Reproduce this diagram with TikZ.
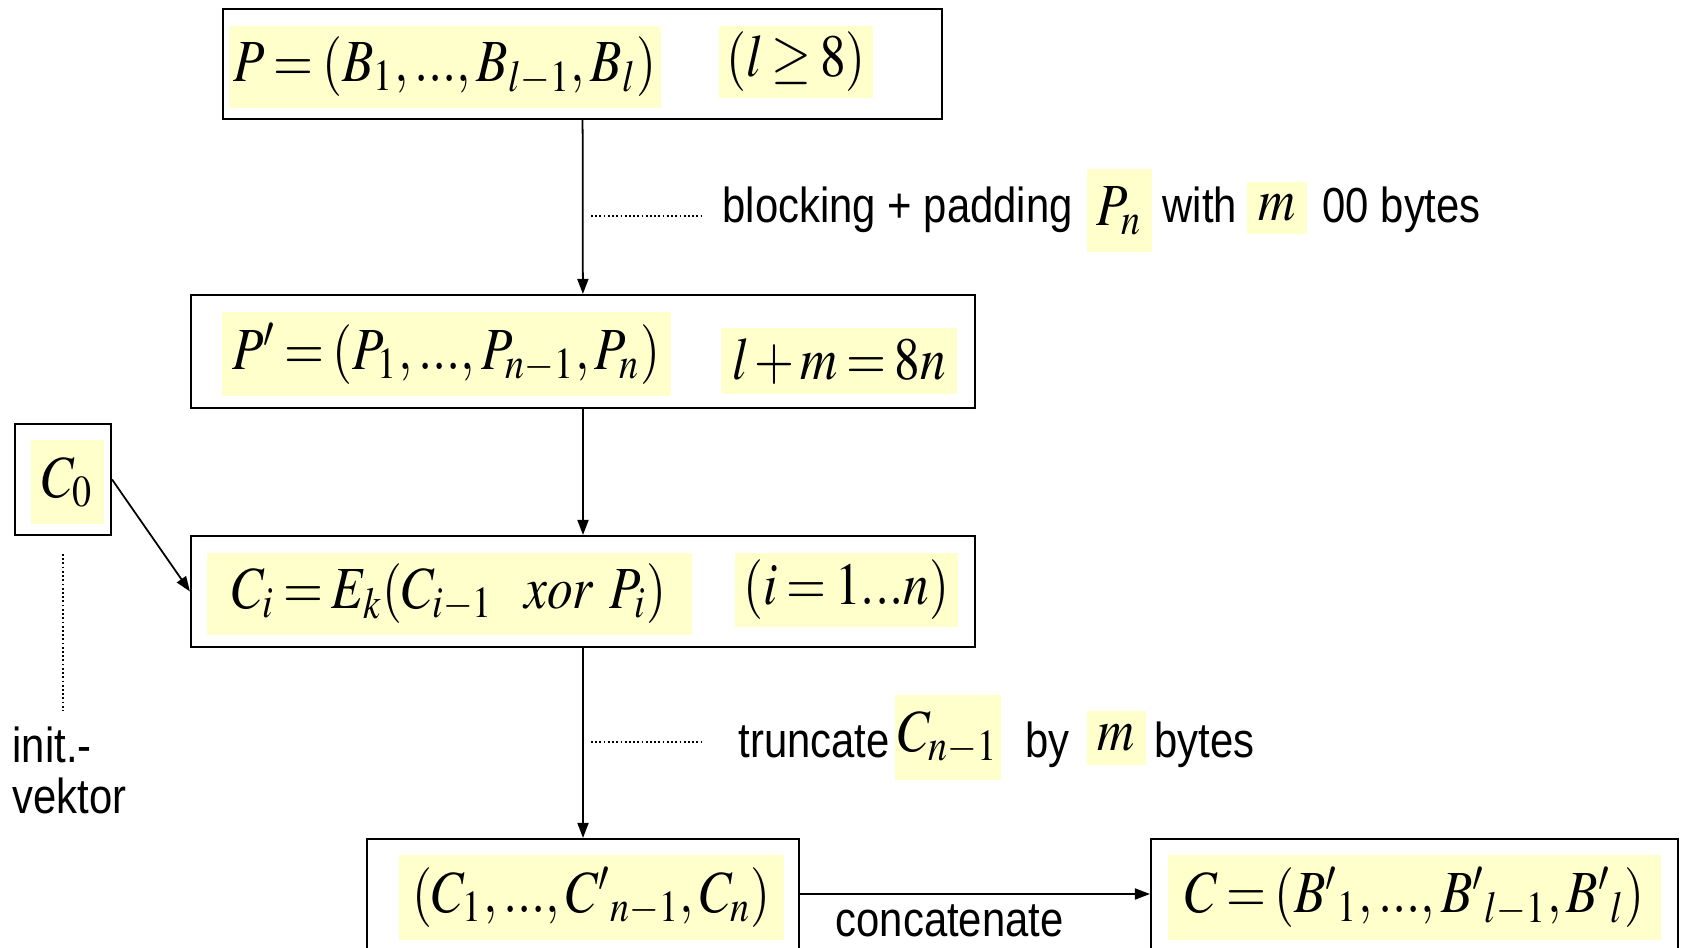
\documentclass[tikz,border=0pt]{standalone}
\usepackage{mathptmx}
\usepackage[no-math]{fontspec}
\newfontfamily\labelfont[FakeStretch=0.85]{Liberation Sans}
\usetikzlibrary{arrows.meta,positioning}
\definecolor{hlyellow}{RGB}{255,255,204}
\newcommand\fm[1]{\scalebox{0.86}[1]{$\thickmuskip=3mu\medmuskip=2mu #1$}}

\begin{document}
\begin{tikzpicture}[
    box/.style={draw, line width=0.6pt, inner sep=0pt},
    hl/.style={fill=hlyellow, inner sep=0pt, font=\fontsize{17}{20}\selectfont},
    lbl/.style={font=\fontsize{14}{14.5}\selectfont\labelfont, inner sep=0pt, anchor=base west},
    flow/.style={-{Triangle[length=1.5mm,width=1.1mm]}, line width=0.5pt},
    leader/.style={dash pattern=on 0.5pt off 0.7pt, line width=0.5pt}]
  \clip (0,0) rectangle (16.83,-9.48);

  % main column
  \node[box, minimum width=7.19cm, minimum height=1.10cm] (pbox) at (5.825,-0.64) {};
  \node[box, minimum width=7.84cm, minimum height=1.13cm] (ppbox) at (5.83,-3.515) {};
  \node[box, minimum width=7.84cm, minimum height=1.11cm] (cbox) at (5.83,-5.915) {};
  \node[box, minimum width=4.32cm, minimum height=1.12cm] (trbox) at (5.83,-8.95) {};
  \node[box, minimum width=5.27cm, minimum height=1.12cm] (outbox) at (14.145,-8.95) {};
  \node[box, minimum width=0.96cm, minimum height=1.11cm] (ivbox) at (0.63,-4.795) {};

  % formulas
  \node[hl, minimum width=4.32cm, minimum height=0.82cm] (plain) at (4.45,-0.67) {\fm{P=(B_1,...,B_{l-1},B_l)}};
  \node[hl, minimum width=1.54cm, minimum height=0.72cm] (lcond) at (7.96,-0.62) {\fm{(l\geq 8)}};
  \node[hl, minimum width=4.49cm, minimum height=0.84cm] (pblocks) at (4.465,-3.54) {\fm{P'=(P_1,...,P_{n-1},P_n)}};
  \node[hl, minimum width=2.36cm, minimum height=0.66cm] (lmeq) at (8.39,-3.61) {\fm{l+m=8n}};
  \node[hl, minimum width=4.85cm, minimum height=0.82cm] (cbc) at (4.495,-5.94) {\fm{C_i=E_k(C_{i-1}\ \ \mathit{xor}\ P_i)}};
  \node[hl, minimum width=2.23cm, minimum height=0.74cm] (irange) at (8.465,-5.90) {\fm{(i=1...n)}};
  \node[hl, minimum width=0.73cm, minimum height=0.84cm] (czero) at (0.675,-4.82) {\fm{C_0}};
  \node[hl, minimum width=3.85cm, minimum height=0.85cm] (cblocks) at (5.915,-8.975) {\fm{(C_1,...,C'{}_{n-1},C_n)}};
  \node[hl, minimum width=4.93cm, minimum height=0.85cm] (cipher) at (14.145,-8.975) {\fm{C=(B'{}_1,...,B'{}_{l-1},B'{}_l)}};

  % step notes
  \node[lbl] (padlbl) at (7.22,-2.23) {blocking + padding};
  \node[hl, minimum width=0.65cm, minimum height=0.83cm] (pn) at (11.195,-2.105) {\fm{P_n}};
  \node[lbl] (withlbl) at (11.62,-2.23) {with};
  \node[hl, minimum width=0.60cm, minimum height=0.52cm] (mpad) at (12.77,-2.08) {\fm{m}};
  \node[lbl] (zerolbl) at (13.22,-2.23) {00 bytes};

  \node[lbl] (trunclbl) at (7.38,-7.58) {truncate};
  \node[hl, minimum width=1.06cm, minimum height=0.85cm] (cn1) at (9.48,-7.375) {\fm{C_{n-1}}};
  \node[lbl] (bylbl) at (10.25,-7.58) {by};
  \node[hl, minimum width=0.59cm, minimum height=0.54cm] (mtrunc) at (11.165,-7.38) {\fm{m}};
  \node[lbl] (byteslbl) at (11.54,-7.58) {bytes};

  \node[lbl] (initlbl) at (0.12,-7.63) {init.-};
  \node[lbl] (vektorlbl) at (0.12,-8.14) {vektor};
  \node[lbl] (catlbl) at (8.35,-9.37) {concatenate};

  % arrows
  \draw[flow] (pbox) -- (ppbox);
  \draw[flow] (ppbox) -- (cbox);
  \draw[flow] (cbox) -- (trbox);
  \draw[flow] (ivbox.east) -- (cbox.west);
  \draw[flow] (trbox.east |- 0,-8.94) -- (outbox.west |- 0,-8.94);

  % dotted leaders
  \coordinate (padtick) at (5.91,-2.16);
  \coordinate (trtick) at (5.91,-7.42);
  \coordinate (ivend) at (0.63,-7.11);
  \draw[leader] (padtick) -- (7.01,-2.16);
  \draw[leader] (trtick) -- (7.01,-7.42);
  \draw[leader, shorten <=0.18cm] (ivbox.south) -- (ivend);
\end{tikzpicture}
\end{document}
